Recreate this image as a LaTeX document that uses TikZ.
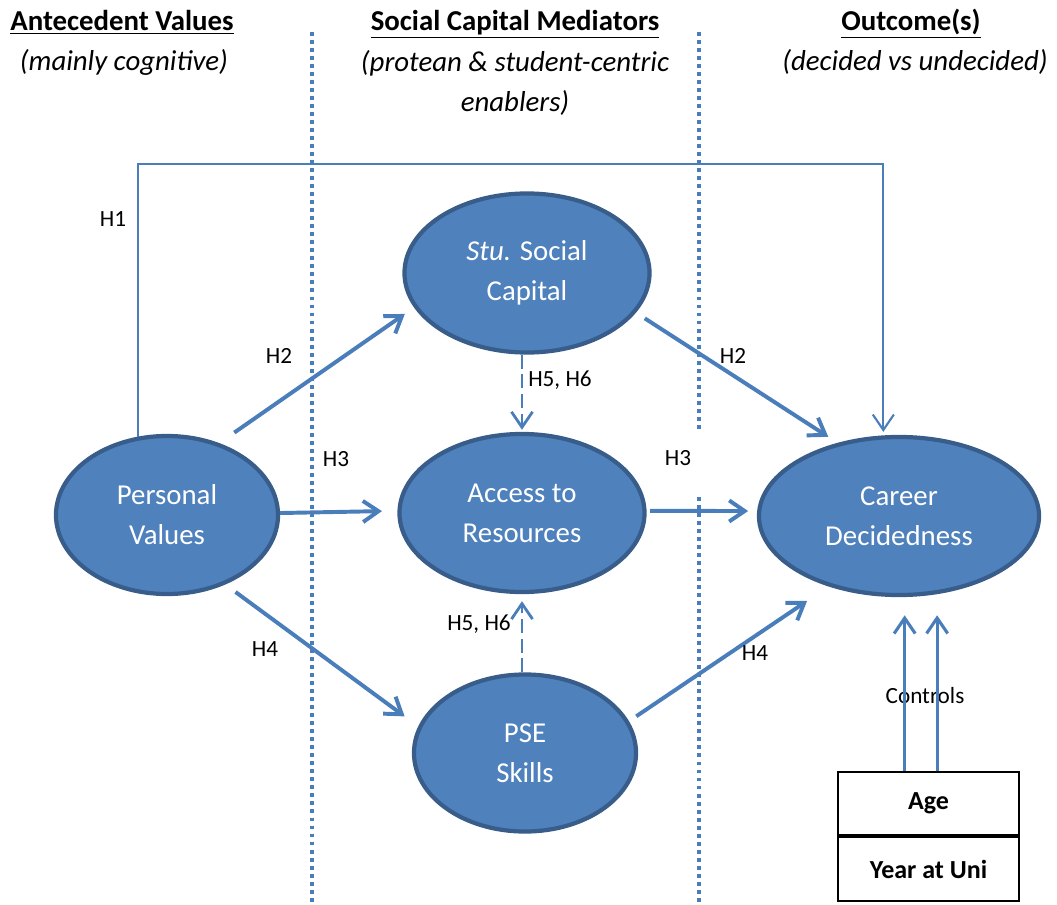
\documentclass[tikz,border=0pt]{standalone}
\usepackage{fontspec}
\setmainfont{Carlito}
\usetikzlibrary{shapes.geometric,arrows.meta}
\definecolor{ovalfill}{HTML}{4F81BD}
\definecolor{ovaledge}{HTML}{385D8A}
\definecolor{linkblue}{HTML}{4A7EBB}

\begin{document}
\begin{tikzpicture}[x=0.025cm,y=-0.025cm,
  construct/.style={ellipse,draw=ovaledge,fill=ovalfill,line width=3pt,text=white,
    align=center,inner sep=0pt,font=\fontsize{20.5}{28.5}\selectfont},
  arr/.style={linkblue,line width=2.8pt,-{Straight Barb[length=11pt,width=15pt]}},
  dasharr/.style={arr,line width=2pt,dash pattern=on 10pt off 4pt},
  lbl/.style={font=\fontsize{16.5}{20}\selectfont},
  head/.style={anchor=base,font=\bfseries\fontsize{20.5}{24}\selectfont},
  sub/.style={anchor=base,align=center,font=\itshape\fontsize{20.5}{29}\selectfont},
  divider/.style={linkblue,line width=2.3pt,dash pattern=on 2.8pt off 2.9pt},
  ctrlbox/.style={draw,line width=1pt,minimum width=4.525cm,font=\bfseries\fontsize{18.5}{22}\selectfont}]
  \useasboundingbox (0,0) rectangle (1057,905);

  \node[head] (anteh) at (122,31) {\underline{Antecedent Values}};
  \node[sub] (antes) at (124,71) {(mainly cognitive)};
  \node[head] (medh) at (515,31) {\underline{Social Capital Mediators}};
  \node[sub] (meds) at (515,112) {(protean \& student-centric\\enablers)};
  \node[head] (outh) at (911,31) {\underline{Outcome(s)}};
  \node[sub] (outs) at (915,71) {(decided vs undecided)};

  \draw[divider] (312,32) -- (312,905);
  \draw[divider] (699,32) -- (699,432) (699,497) -- (699,905);

  \node[construct,minimum width=5.55cm,minimum height=3.95cm] (pv) at (167,515) {Personal\\Values};
  \node[construct,minimum width=6.125cm,minimum height=3.975cm] (ssc) at (527,273) {\textit{Stu.} Social\\Capital};
  \node[construct,minimum width=6.125cm,minimum height=3.95cm] (atr) at (522,513) {Access to\\Resources};
  \node[construct,minimum width=5.55cm,minimum height=3.925cm] (pse) at (525,753) {PSE\\Skills};
  \node[construct,minimum width=7cm,minimum height=3.95cm] (cd) at (899,516) {Career\\Decidedness};

  \node[ctrlbox,minimum height=1.575cm] (age) at (928.5,803.5) {Age};
  \node[ctrlbox,minimum height=1.6cm] (year) at (928.5,869) {Year at Uni};

  \coordinate (h1turn) at (0,164);
  \draw[arr,line width=1.5pt,shorten >=2.5pt] (pv.110) |- (h1turn -| cd.101) -- (cd.101);
  \draw[arr,shorten <=13pt,shorten >=8pt] (pv.54) -- (ssc.197);
  \draw[arr,shorten <=7.5pt,shorten >=7.9pt] (ssc.-20) -- (cd.130);
  \draw[arr,shorten >=11pt] (pv.1) -- (atr.179);
  \draw[arr,shorten <=2.5pt,shorten >=6.4pt] (atr.1) -- (cd.178);
  \draw[arr,shorten <=9pt,shorten >=12pt] (pv.-50) -- (pse.166);
  \draw[arr,shorten <=6.3pt,shorten >=18.4pt] (pse.17) -- (cd.225);
  \draw[dasharr,shorten >=1.5pt] (ssc.south -| atr.north) -- (atr.north);
  \draw[dasharr,shorten >=5pt] (pse.north -| atr.south) -- (atr.south);

  \node[lbl] (h1) at (113,219) {H1};
  \node[lbl] (h2a) at (279,356) {H2};
  \node[lbl] (h2b) at (733,356) {H2};
  \node[lbl] (h3a) at (336,459) {H3};
  \node[lbl] (h3b) at (678,458) {H3};
  \node[lbl] (h4a) at (265,649) {H4};
  \node[lbl] (h4b) at (755,653) {H4};
  \node[lbl] (h56a) at (560,380) {H5, H6};
  \node[lbl] (h56b) at (479,624) {H5, H6};
  \node[lbl] (ctrl) at (925,696) {Controls};

  \draw[arr,line width=2.2pt,shorten >=13pt] (age.north -| cd.-86) -- (cd.-86);
  \draw[arr,line width=2.2pt,shorten >=15pt] (age.north -| cd.-64) -- (cd.-64);
\end{tikzpicture}
\end{document}
